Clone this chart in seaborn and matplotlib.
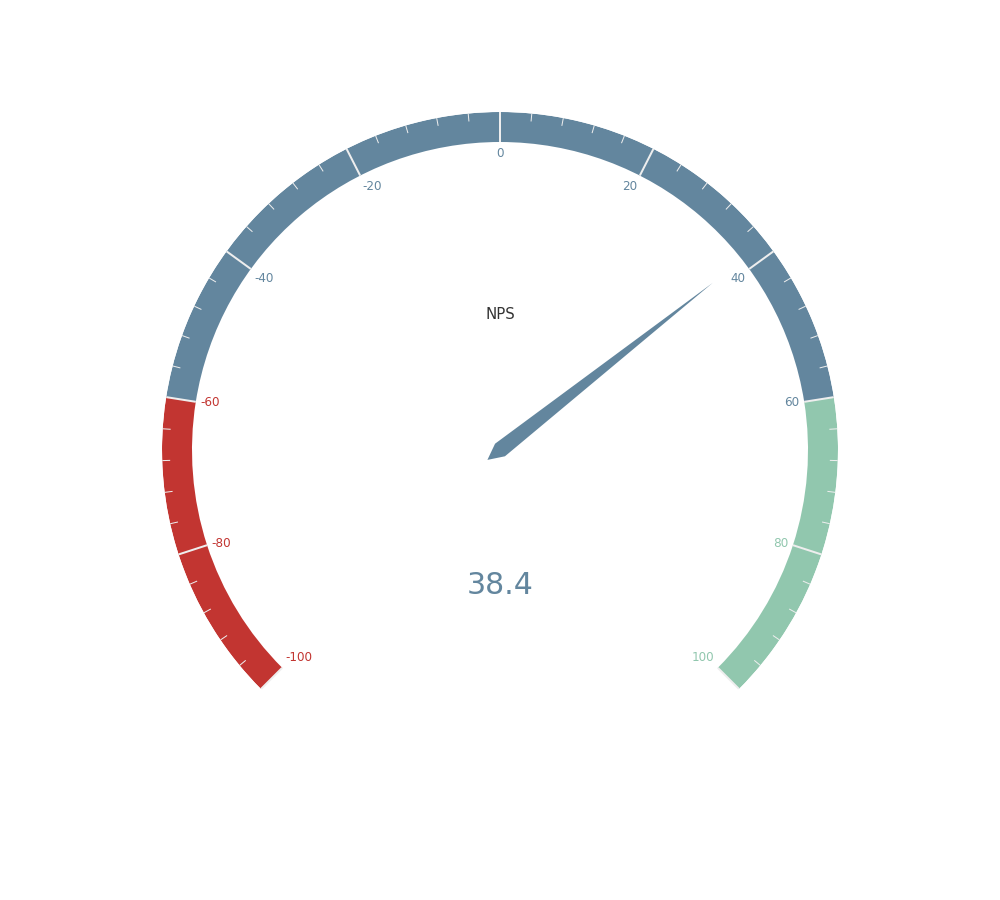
import numpy as np
import matplotlib
matplotlib.use("Agg")
import matplotlib.pyplot as plt
import seaborn as sns

# gauge data
gauge_min = -100
gauge_max = 100
band_edges = [-100, -60, 60, 100]
band_colors = ["#c23531", "#63869e", "#91c7ae"]
major_ticks = [-100, -80, -60, -40, -20, 0, 20, 40, 60, 80, 100]
minor_step = 4
nps_value = 38.4
title_text = "NPS"

sns.set_theme(style="white")
plt.rcParams["font.family"] = ["DejaVu Sans"]

# geometry in pixels (axes is sized so that r-units == pixels)
R = 338
LINE_W = 30
SPLIT_LEN = 30
TICK_LEN = 8
LABEL_DIST = 5
PX = 0.72  # points per pixel at dpi 100

fig = plt.figure(figsize=(10, 9), dpi=100)
ax = fig.add_axes([(500 - R) / 1000, (450 - R) / 900, 2 * R / 1000, 2 * R / 900],
                  projection="polar")
ax.set_theta_zero_location("N")
ax.set_theta_direction(-1)
ax.set_ylim(0, R)
ax.axis("off")

span_deg = 270.0


def to_theta(v):
    return np.deg2rad((v - (gauge_min + gauge_max) / 2) * span_deg / (gauge_max - gauge_min))


def band_color(v):
    pct = (v - gauge_min) / (gauge_max - gauge_min)
    for edge, c in zip(band_edges[1:], band_colors):
        if pct <= (edge - gauge_min) / (gauge_max - gauge_min) + 1e-9:
            return c
    return band_colors[-1]


# colored bands
for lo, hi, c in zip(band_edges[:-1], band_edges[1:], band_colors):
    t0, t1 = to_theta(lo), to_theta(hi)
    ax.bar((t0 + t1) / 2, LINE_W, width=t1 - t0, bottom=R - LINE_W,
           color=c, edgecolor="none", linewidth=0)

# minor ticks
for v in np.arange(gauge_min, gauge_max + 0.1, minor_step):
    if v in major_ticks:
        continue
    t = to_theta(v)
    ax.plot([t, t], [R, R - TICK_LEN], color="#eeeeee", lw=1 * PX,
            solid_capstyle="butt")

# split lines + labels
for v in major_ticks:
    t = to_theta(v)
    ax.plot([t, t], [R, R - SPLIT_LEN], color="#eeeeee", lw=2 * PX,
            solid_capstyle="butt")
    ux, uy = np.sin(t), np.cos(t)
    ha = "left" if ux < -0.4 else ("right" if ux > 0.4 else "center")
    va = "top" if uy > 0.4 else ("bottom" if uy < -0.4 else "center")
    ax.text(t, R - SPLIT_LEN - LABEL_DIST, f"{v}", ha=ha, va=va,
            fontsize=12 * PX, color=band_color(v))

# pointer
pt = to_theta(nps_value)
pw = 8
plen = 0.8 * R
ax.fill([pt + np.pi, pt - np.pi / 2, pt, pt + np.pi / 2, pt + np.pi],
        [2 * pw, pw, plen, pw, 2 * pw],
        color=band_color(nps_value), lw=0)

# title and value
ax.text(0, 0.4 * R, title_text, ha="center", va="center",
        fontsize=15 * PX, color="#333333")
ax.text(np.pi, 0.4 * R, f"{nps_value}", ha="center", va="center",
        fontsize=30 * PX, color=band_color(nps_value))

fig.savefig("out.png", dpi=100)
